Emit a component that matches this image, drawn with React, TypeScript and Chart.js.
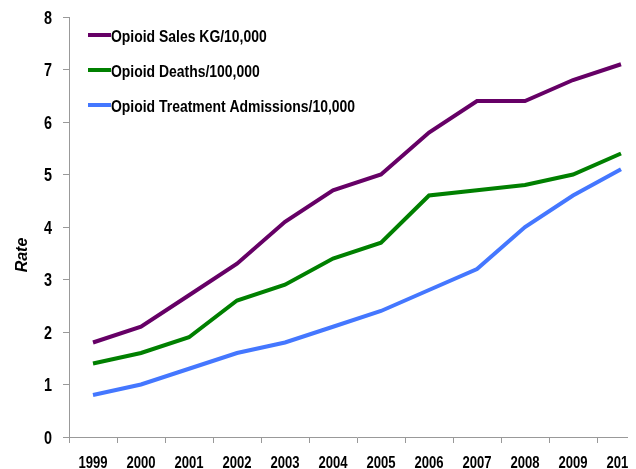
import React, { useEffect, useRef } from "react";
import { Chart, registerables } from "chart.js";

Chart.register(...registerables);

const years = ["1999", "2000", "2001", "2002", "2003", "2004", "2005", "2006", "2007", "2008", "2009", "2010"];
const salesLabel = "Opioid Sales KG/10,000";
const deathsLabel = "Opioid Deaths/100,000";
const treatmentLabel = "Opioid Treatment Admissions/10,000";
const salesValues = [1.8, 2.1, 2.7, 3.3, 4.1, 4.7, 5.0, 5.8, 6.4, 6.4, 6.8, 7.1];
const deathsValues = [1.4, 1.6, 1.9, 2.6, 2.9, 3.4, 3.7, 4.6, 4.7, 4.8, 5.0, 5.4];
const treatmentValues = [0.8, 1.0, 1.3, 1.6, 1.8, 2.1, 2.4, 2.8, 3.2, 4.0, 4.6, 5.1];
const yTitle = "Rate";

const FONT = "'Liberation Sans', Arial, sans-serif";

function narrowText(ctx: any, text: string, x: number, y: number, align: string, sx: number, font: string) {
  ctx.save();
  ctx.translate(x, y);
  ctx.scale(sx, 1);
  ctx.font = font;
  ctx.textAlign = align;
  ctx.textBaseline = "alphabetic";
  ctx.fillStyle = "#000";
  ctx.fillText(text, 0, 0);
  ctx.restore();
}

const textPlugin = {
  id: "customText",
  afterDraw(chart: any) {
    const ctx = chart.ctx;
    const area = chart.chartArea;
    const xs = chart.scales.x;
    const ys = chart.scales.y;
    // legend
    chart.data.datasets.forEach((ds: any, i: number) => {
      const y = area.top + 18 + i * 35;
      const x0 = area.left + 19;
      ctx.save();
      ctx.strokeStyle = ds.borderColor;
      ctx.lineWidth = 4;
      ctx.lineCap = "butt";
      ctx.beginPath();
      ctx.moveTo(x0, y);
      ctx.lineTo(x0 + 23, y);
      ctx.stroke();
      ctx.restore();
      narrowText(ctx, ds.label, x0 + 23, y + 7, "left", 0.82, `bold 17px ${FONT}`);
    });
    // x tick labels
    years.forEach((lab, i) => {
      const px = xs.getPixelForValue(i);
      narrowText(ctx, lab, px, 460, "center", 0.77, `bold 17px ${FONT}`);
    });
    // y tick labels
    ys.ticks.forEach((t: any) => {
      const py = ys.getPixelForValue(t.value);
      narrowText(ctx, String(t.value), area.left - 17, py + 6.5, "right", 0.8, `bold 18px ${FONT}`);
    });
    // y title
    ctx.save();
    ctx.translate(15, 247);
    ctx.rotate(-Math.PI / 2);
    ctx.font = `italic bold 16px ${FONT}`;
    ctx.textAlign = "center";
    ctx.textBaseline = "middle";
    ctx.fillStyle = "#000";
    ctx.fillText(yTitle, 0, 0);
    ctx.restore();
  },
};

export default function App() {
  const ref = useRef<HTMLCanvasElement | null>(null);
  useEffect(() => {
    if (!ref.current) return;
    const chart = new Chart(ref.current, {
      type: "line",
      data: {
        labels: years,
        datasets: [
          { label: salesLabel, data: salesValues, borderColor: "#660066", backgroundColor: "#660066" },
          { label: deathsLabel, data: deathsValues, borderColor: "#008000", backgroundColor: "#008000" },
          { label: treatmentLabel, data: treatmentValues, borderColor: "#4477ff", backgroundColor: "#4477ff" },
        ].map((d) => ({ ...d, borderWidth: 4, pointRadius: 0, tension: 0, fill: false })),
      },
      options: {
        animation: false,
        responsive: false,
        maintainAspectRatio: false,
        layout: { padding: { top: 9, right: 0, left: 0, bottom: 0 } },
        plugins: { legend: { display: false }, tooltip: { enabled: false } },
        scales: {
          x: {
            offset: true,
            grid: { display: true, drawOnChartArea: false, color: "#999", tickLength: 6, offset: true },
            border: { color: "#999", width: 1 },
            ticks: { display: false, autoSkip: false },
            afterFit(scale: any) {
              scale.height = 32;
              scale.paddingLeft = 0;
              scale.paddingRight = 0;
            },
          },
          y: {
            min: 0,
            max: 8,
            grid: { display: true, drawOnChartArea: false, color: "#999", tickLength: 6 },
            border: { color: "#999", width: 1 },
            ticks: { display: false, stepSize: 1 },
            afterFit(scale: any) {
              scale.width = 61;
              scale.paddingTop = 0;
              scale.paddingBottom = 0;
            },
          },
        },
      },
      plugins: [textPlugin],
    });
    return () => chart.destroy();
  }, []);
  return (
    <div style={{ width: 628, height: 461, overflow: "hidden", position: "relative" }}>
      <canvas ref={ref} width={637} height={461} style={{ position: "absolute", left: 0, top: 0 }} />
    </div>
  );
}
